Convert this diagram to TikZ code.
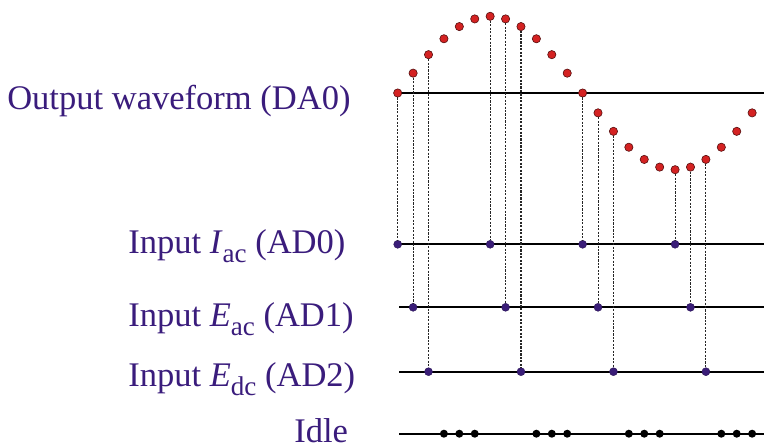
\documentclass[tikz,border=0pt]{standalone}
\usepackage{fontspec}
\setmainfont{Liberation Serif}
\definecolor{txt}{HTML}{3A1C7C}
\definecolor{pdot}{HTML}{3A1D78}
\definecolor{rdot}{HTML}{D42222}
\newcommand\lowsub[1]{\raisebox{-0.27em}{\fontsize{20.3}{20}\selectfont #1}}
\begin{document}
\begin{tikzpicture}[x=0.75pt,y=-0.75pt,
  lbl/.style={anchor=base west, inner sep=0pt, text=txt, font=\fontsize{25.9}{30}\selectfont},
  reddot/.style={circle, fill=rdot, draw=rdot!40!black, line width=0.45pt, inner sep=0pt, minimum size=6.2pt},
  purdot/.style={circle, fill=pdot, draw=pdot!70!black, line width=0.3pt, inner sep=0pt, minimum size=6pt},
  blkdot/.style={circle, fill=black, inner sep=0pt, minimum size=6pt},
  axisline/.style={line width=1.5pt},
  samp/.style={dash pattern=on 1.6pt off 1pt, line width=0.8pt, black!85}]
\useasboundingbox (0,0) rectangle (764,446);
% labels
\node[lbl] (out) at (7,109.5) {Output waveform (DA0)};
\node[lbl] (iac) at (128,253.3) {Input \textit{I}\lowsub{ac} (AD0)};
\node[lbl] (eac) at (128,326) {Input \textit{E}\lowsub{ac} (AD1)};
\node[lbl] (edc) at (128,386) {Input \textit{E}\lowsub{dc} (AD2)};
\node[lbl, text depth=0pt] (idle) at (294,442.6) {Idle};
% axis lines
\coordinate (o0) at (397.7,93);   \coordinate (o1) at (764,93);
\coordinate (c00) at (397.7,244.3); \coordinate (c01) at (764,244.3);
\coordinate (c10) at (399.3,307.3); \coordinate (c11) at (764,307.3);
\coordinate (c20) at (399.3,371.7); \coordinate (c21) at (764,371.7);
\coordinate (c30) at (399.3,433.7); \coordinate (c31) at (764,433.7);
\draw[axisline] (o0) -- (o1);
\draw[axisline] (c00) -- (c01);
\draw[axisline] (c10) -- (c11);
\draw[axisline] (c20) -- (c21);
\draw[axisline] (c30) -- (c31);
% output samples
\foreach \i in {0,...,23}
  \node[reddot] (r\i) at ({397.7+15.41*\i},{93-76.7*sin(15*\i)}) {};
% input samples
\foreach \i in {0,6,12,18}
  \node[purdot] (s\i) at ({397.7+15.41*\i},244.3) {};
\foreach \i in {1,7,13,19}
  \node[purdot] (s\i) at ({397.7+15.41*\i},307.3) {};
\foreach \i in {2,8,14,20}
  \node[purdot] (s\i) at ({397.7+15.41*\i},371.7) {};
\foreach \i in {3,4,5,9,10,11,15,16,17,21,22,23}
  \node[blkdot] (k\i) at ({397.7+15.41*\i},433.7) {};
% sampling connectors
\foreach \i in {0,1,2,6,7,8,12,13,14,18,19,20}
  \draw[samp] (r\i) -- (s\i);
\end{tikzpicture}
\end{document}
